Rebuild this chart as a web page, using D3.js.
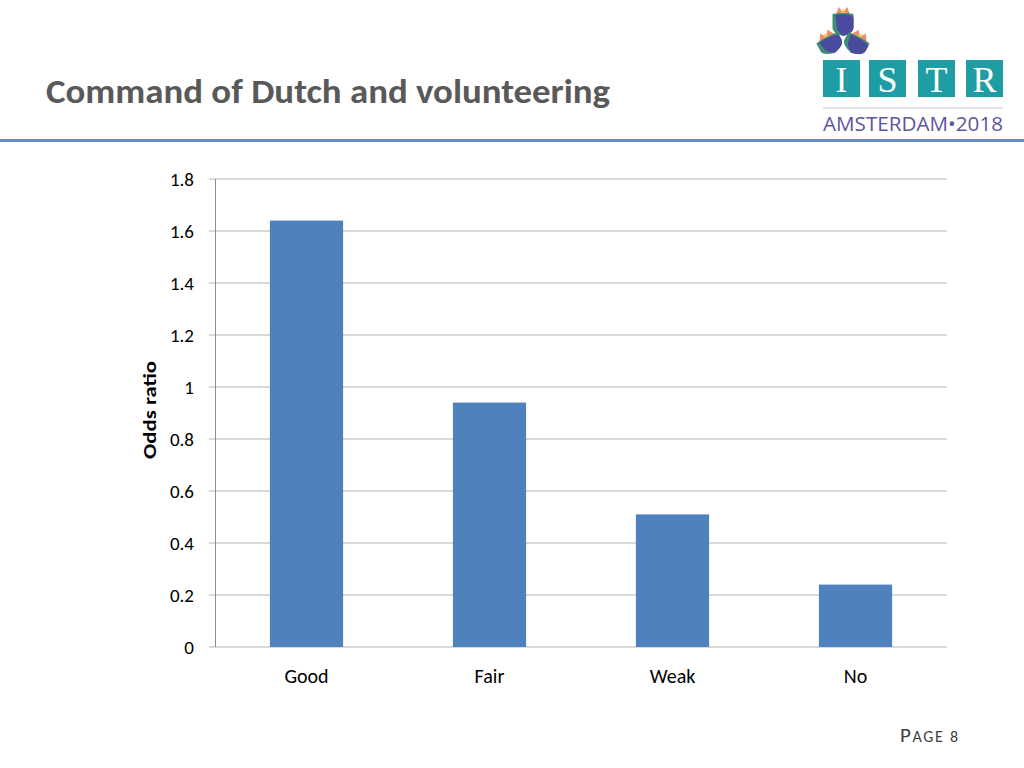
<!DOCTYPE html>
<html><head><meta charset="utf-8">
<script src="https://cdn.jsdelivr.net/npm/d3@7"></script>
<style>body{margin:0;background:#fff}svg{display:block}</style>
</head><body>
<svg id="c" width="1024" height="768"></svg>
<script>
const categories = ["Good", "Fair", "Weak", "No"];
const oddsRatio = [1.64, 0.94, 0.51, 0.24];
const yTicks = [0, 0.2, 0.4, 0.6, 0.8, 1, 1.2, 1.4, 1.6, 1.8];
const tickLabels = ["0", "0.2", "0.4", "0.6", "0.8", "1", "1.2", "1.4", "1.6", "1.8"];

const svg = d3.select("#c");
const font = "Carlito, Calibri, Lato, 'Open Sans', sans-serif";

// Title
svg.append("text").attr("x", 46).attr("y", 103)
  .attr("font-family", font).attr("font-weight", "bold").attr("font-size", 35)
  .attr("textLength", 564).attr("lengthAdjust", "spacingAndGlyphs")
  .attr("fill", "#595959").text("Command of Dutch and volunteering");

// Blue rule
svg.append("rect").attr("x", 0).attr("y", 139).attr("width", 1024).attr("height", 3).attr("fill", "#4a9ac6");

// Logo
const logo = svg.append("g");
const sq = [823, 869, 918, 966], letters = ["I", "S", "T", "R"];
sq.forEach((x, i) => {
  logo.append("rect").attr("x", x).attr("y", 60).attr("width", 37).attr("height", 37).attr("fill", "#1e9ea4");
  logo.append("text").attr("x", x + 18.5).attr("y", 92).attr("text-anchor", "middle")
    .attr("font-family", "'Liberation Serif', 'DejaVu Serif', serif").attr("font-size", 36)
    .attr("fill", "#fff").text(letters[i]);
});
logo.append("line").attr("x1", 823).attr("x2", 1003).attr("y1", 108).attr("y2", 108).attr("stroke", "#dadada").attr("stroke-width", 1.5);
logo.append("text").attr("x", 823).attr("y", 131).attr("textLength", 180).attr("lengthAdjust", "spacingAndGlyphs")
  .attr("font-family", "'Open Sans', Lato, sans-serif").attr("font-size", 20).attr("fill", "#62559a")
  .text("AMSTERDAM\u20222018");

// flower: three buds
function bud(cx, topY, w, h, rot) {
  const g = logo.append("g").attr("transform", `rotate(${rot},${cx},${topY + h / 2})`);
  const l = cx - w / 2, r = cx + w / 2, b = topY + h;
  g.append("path").attr("d", `M${l + 3},${topY + 5} L${cx - 4},${topY - 3} L${cx},${topY + 3} L${cx + 4},${topY - 3} L${r - 3},${topY + 5} Z`).attr("fill", "#ef8f5f");
  g.append("path").attr("d", `M${cx - 3},${topY + 4} L${cx},${topY - 1} L${cx + 3},${topY + 4} Z`).attr("fill", "#f6c35a");
  g.append("path").attr("d", `M${l},${topY + 4} Q${cx},${topY + 2} ${r},${topY + 4} L${r},${b - 8} Q${r},${b - 3} ${cx},${b} Q${l},${b - 3} ${l},${b - 8} Z`).attr("fill", "#3f8d78");
  g.append("path").attr("d", `M${l + 3},${topY + 5} Q${cx + 4},${topY + 3} ${r},${topY + 7} L${r},${b - 8} Q${r - 1},${b - 2} ${cx},${b} Q${l + 4},${b - 5} ${l + 4},${b - 10} Z`).attr("fill", "#4a4b9f");
}
bud(843, 10, 21, 26, 0);
bud(830, 33, 24, 21, -28);
bud(856, 33, 24, 21, 28);

// Chart
const x0 = 215, x1 = 947, yTop = 179, yBot = 647;
const x = d3.scaleBand().domain(categories).range([x0, x1]).paddingInner(0.6).paddingOuter(0.3);
const y = d3.scaleLinear().domain([0, 1.8]).range([yBot, yTop]);

const grid = svg.append("g");
grid.selectAll("line").data(yTicks).join("line")
  .attr("x1", x0 - 6).attr("x2", x1).attr("y1", d => y(d)).attr("y2", d => y(d))
  .attr("stroke", "#b4b4b4").attr("stroke-width", 1.2);

svg.append("g").selectAll("rect").data(oddsRatio).join("rect")
  .attr("x", (d, i) => x(categories[i])).attr("width", x.bandwidth())
  .attr("y", d => y(d)).attr("height", d => yBot - y(d)).attr("fill", "#4f81bd");

svg.append("line").attr("x1", x0 + 0.5).attr("x2", x0 + 0.5).attr("y1", yTop).attr("y2", yBot)
  .attr("stroke", "#8c8c8c").attr("stroke-width", 1);

const yAxis = d3.axisLeft(y).tickValues(yTicks).tickFormat((d, i) => tickLabels[i]).tickSize(0).tickPadding(21);
const ga = svg.append("g").attr("transform", `translate(${x0},0)`).call(yAxis);
ga.select(".domain").remove();
ga.selectAll("text").attr("font-family", font).attr("font-size", 19).attr("fill", "#000");

const xAxis = d3.axisBottom(x).tickSize(0).tickPadding(22);
const gx = svg.append("g").attr("transform", `translate(0,${yBot})`).call(xAxis);
gx.select(".domain").remove();
gx.selectAll("text").attr("font-family", font).attr("font-size", 20).attr("fill", "#000");

svg.append("text").attr("transform", `translate(156,410) rotate(-90)`).attr("text-anchor", "middle")
  .attr("font-family", font).attr("font-weight", "bold").attr("font-size", 19)
  .attr("textLength", 98).attr("lengthAdjust", "spacingAndGlyphs")
  .attr("fill", "#000").text("Odds ratio");

// Page number
const pg = svg.append("text").attr("x", 900).attr("y", 742).attr("font-family", font).attr("fill", "#404040")
  .attr("textLength", 58).attr("lengthAdjust", "spacing");
pg.append("tspan").attr("font-size", 21).text("P");
pg.append("tspan").attr("font-size", 16).text("AGE 8");
</script>
</body></html>
